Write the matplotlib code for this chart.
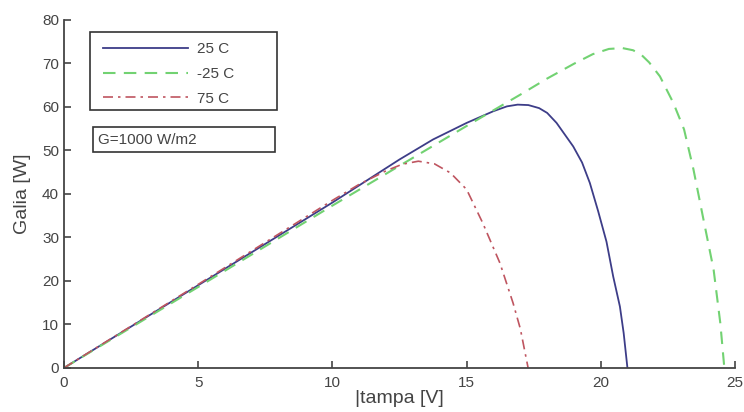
import matplotlib.pyplot as plt
from matplotlib.patches import Rectangle

# power vs voltage at three temperatures, G = 1000 W/m2
v_25 = [0, 5, 10, 12.5, 13.75, 15, 16, 16.5, 16.9, 17.3, 17.7, 18.0, 18.35, 18.97, 19.3,
        19.59, 19.9, 20.21, 20.46, 20.71, 20.85, 20.99]
p_25 = [0, 19.0, 38.0, 47.9, 52.5, 56.3, 59.0, 60.1, 60.5, 60.4, 59.7, 58.6, 56.3, 50.9, 47.2,
        42.5, 36.0, 29.0, 21.0, 14.1, 8.0, 0]

v_m25 = [0, 5, 10, 15, 16, 17, 18, 18.5, 19, 19.7, 20.3, 20.8, 21.2, 21.5, 21.8, 22.2, 22.7,
         23.1, 23.45, 23.8, 24.2, 24.45, 24.6]
p_m25 = [0, 18.6, 37.3, 55.6, 59.2, 62.8, 66.5, 68.2, 69.9, 72.1, 73.3, 73.5, 73.0, 72.0, 70.2, 67.0, 60.9,
         54.8, 45.6, 34.8, 22.6, 10.3, 0]

v_75 = [0, 5, 10, 11, 12, 12.6, 13.2, 13.8, 14.4, 15.0, 15.6, 16.24, 16.73, 17.0, 17.29]
p_75 = [0, 19.2, 38.5, 42.2, 45.3, 46.8, 47.5, 46.9, 44.8, 41.0, 33.3, 24.1, 14.9, 9.0, 0]

plt.rcParams['font.family'] = ['Liberation Sans', 'DejaVu Sans']

fig = plt.figure(figsize=(7.44, 4.12), dpi=100)
ax = fig.add_axes([0.086, 0.107, 0.902, 0.845])

ax.plot(v_25, p_25, color='#3d3d88', lw=1.3, label='25 C')
ax.plot(v_m25, p_m25, color='#72d272', lw=1.5, ls=(0, (6, 4)), label='-25 C')
ax.plot(v_75, p_75, color='#bf5560', lw=1.2, ls=(0, (6, 3, 1.5, 3)), label='75 C')

ax.set_xlim(0, 25)
ax.set_ylim(0, 80)
ax.set_xticks([0, 5, 10, 15, 20, 25])
ax.set_yticks(range(0, 81, 10))
ax.tick_params(direction='in', length=5, width=1.2, colors='#444444', labelsize=11)
ax.tick_params(axis='x', pad=6)
for s in ['top', 'right']:
    ax.spines[s].set_visible(False)
for s in ['left', 'bottom']:
    ax.spines[s].set_color('#444444')
    ax.spines[s].set_linewidth(1.3)

ax.set_xlabel('|tampa [V]', fontsize=14, color='#444444', labelpad=0)
ax.set_ylabel('Galia [W]', fontsize=14, color='#444444', labelpad=8)

# legend box drawn separately, it is wider than its content
ax.add_patch(Rectangle((0.0387, 0.741), 0.279, 0.2245, transform=ax.transAxes,
                       fill=False, ec='#333333', lw=1.2, zorder=5))
leg = ax.legend(loc='upper left', bbox_to_anchor=(0.058, 0.935), handlelength=5.6,
                fontsize=11, frameon=False, borderpad=0, labelspacing=0.7,
                handletextpad=0.55, borderaxespad=0)
for t in leg.get_texts():
    t.set_color('#444444')

ax.add_patch(Rectangle((0.0432, 0.6207), 0.2708, 0.0718, transform=ax.transAxes,
                       fill=False, ec='#333333', lw=1.2, zorder=5))
ax.text(0.05, 0.654, 'G=1000 W/m2', transform=ax.transAxes, fontsize=11,
        color='#444444', va='center', ha='left')

fig.savefig('out.png', dpi=100)
